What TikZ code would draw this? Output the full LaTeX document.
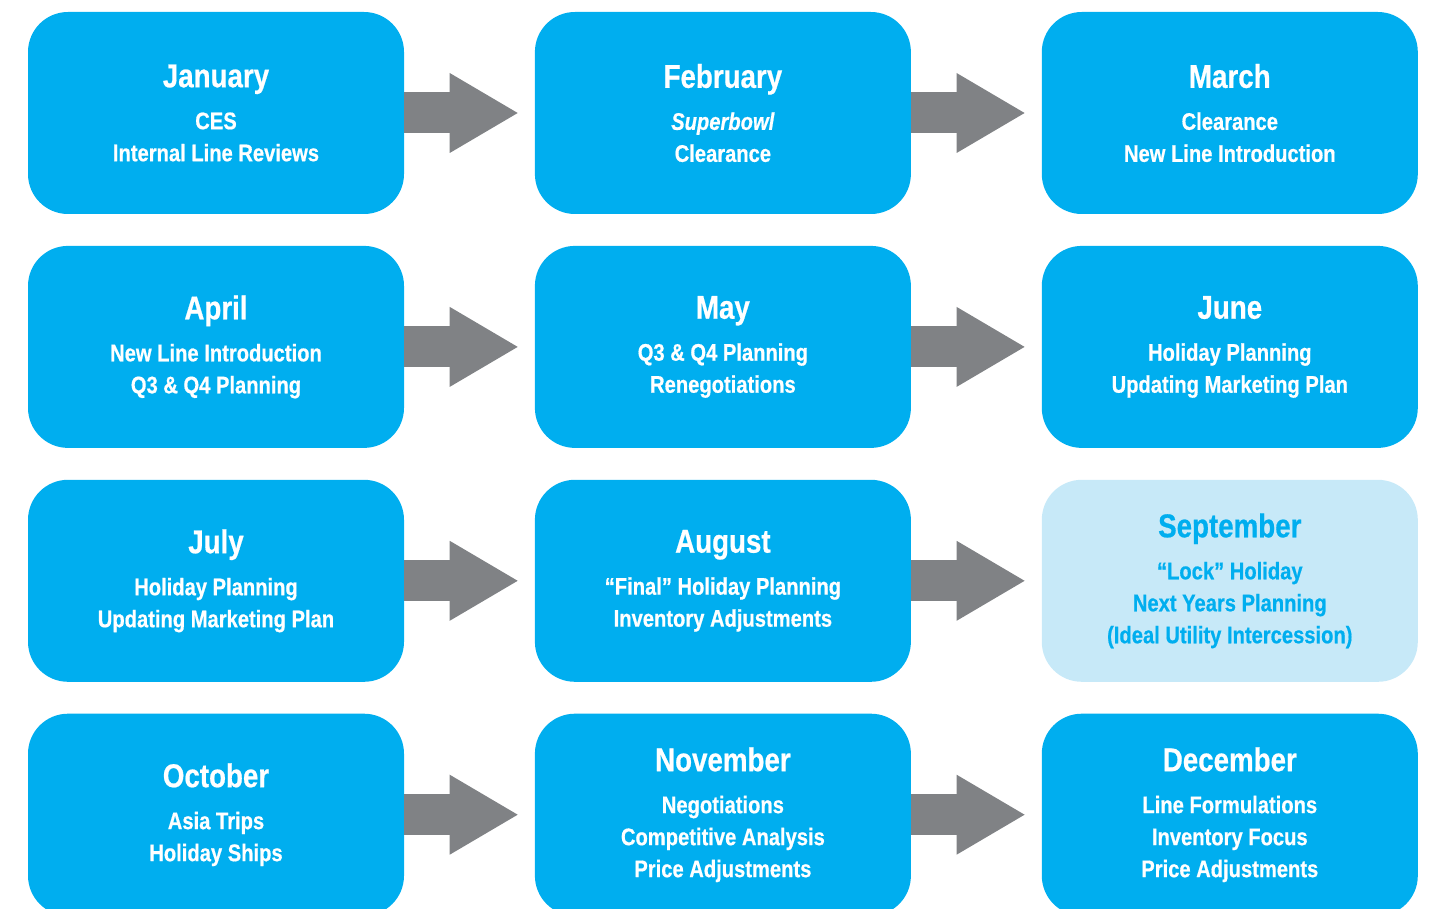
\documentclass[tikz,border=0pt]{standalone}
\usepackage{fontspec}
\setmainfont{Liberation Sans}[FakeStretch=0.84, BoldFeatures={FakeBold=0.6}, BoldItalicFeatures={FakeBold=0.6}]
\usepackage{tikz}
\usetikzlibrary{positioning}
\usetikzlibrary{arrows.meta}
\definecolor{boxcyan}{HTML}{00AEEF}
\definecolor{boxpale}{HTML}{C7E9F8}
\definecolor{flowgray}{HTML}{808285}
\newcommand{\mname}[1]{{\fontsize{33}{40}\selectfont #1}\\[10pt]}
\tikzstyle{every node}+=[inner sep=0pt]
\tikzstyle{month} = [rectangle, fill=boxcyan, text=white, font=\bfseries\fontsize{24}{32}\selectfont, align=center, rounded corners=40pt, minimum width=376pt, minimum height=202pt]
\tikzstyle{pale} = [month, fill=boxpale, text=boxcyan]
\tikzstyle{line} = [draw=flowgray, line width=41pt, -{Triangle[length=68pt, width=80pt, line width=0pt]}, shorten >=17pt]
\begin{document}
\begin{tikzpicture}[x=1pt, y=-1pt, node distance=31.5pt and 130.5pt]
            \useasboundingbox (0,0) rectangle (1430,909);
            % Place nodes
            \node [month] (jan) at (216,113) {\mname{January}CES\\Internal Line Reviews};
            \node [month, right=of jan] (feb) {\mname{February}\textit{Superbowl}\\Clearance};
            \node [month, right=of feb] (mar) {\mname{March}Clearance\\New Line Introduction};
            \node [month, below=of jan] (apr) {\mname{April}New Line Introduction\\Q3 \& Q4 Planning};
            \node [month, right=of apr] (may) {\mname{May}Q3 \& Q4 Planning\\Renegotiations};
            \node [month, right=of may] (jun) {\mname{June}Holiday Planning\\Updating Marketing Plan};
            \node [month, below=of apr] (jul) {\mname{July}Holiday Planning\\Updating Marketing Plan};
            \node [month, right=of jul] (aug) {\mname{August}“Final” Holiday Planning\\Inventory Adjustments};
            \node [pale, right=of aug] (sep) {\mname{September}“Lock” Holiday\\Next Years Planning\\(Ideal Utility Intercession)};
            \node [month, below=of jul] (oct) {\mname{October}Asia Trips\\Holiday Ships};
            \node [month, right=of oct] (nov) {\mname{November}Negotiations\\Competitive Analysis\\Price Adjustments};
            \node [month, right=of nov] (dec) {\mname{December}Line Formulations\\Inventory Focus\\Price Adjustments};
            % Draw edges
            \path [line] (jan) -- (feb);
            \path [line] (feb) -- (mar);
            \path [line] (apr) -- (may);
            \path [line] (may) -- (jun);
            \path [line] (jul) -- (aug);
            \path [line] (aug) -- (sep);
            \path [line] (oct) -- (nov);
            \path [line] (nov) -- (dec);
\end{tikzpicture}
\end{document}
